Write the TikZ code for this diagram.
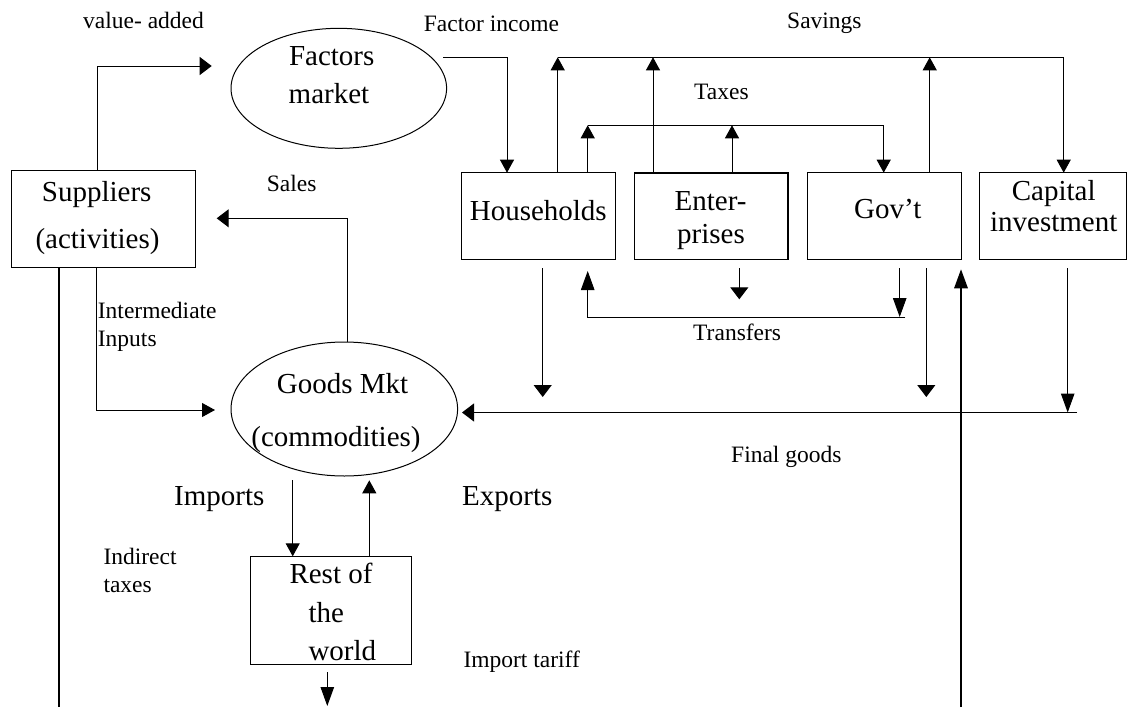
\documentclass[tikz,border=0pt]{standalone}
\usepackage{fontspec}
\setmainfont{Liberation Serif}
\usetikzlibrary{shapes.geometric,arrows.meta}
\tikzset{
  big/.style={font=\fontsize{29}{34}\selectfont, inner sep=0pt, anchor=base},
  bigl/.style={font=\fontsize{29}{34}\selectfont, inner sep=0pt, anchor=base west},
  sm/.style={font=\fontsize{23.5}{28}\selectfont, inner sep=0pt, anchor=base west},
  box/.style={draw, line width=1pt, inner sep=0pt, outer sep=0pt},
  ell/.style={draw, ellipse, line width=1pt, inner sep=0pt, outer sep=0pt},
  ln/.style={line width=1pt},
  arr/.style={ln, -{Triangle[length=13pt,width=14pt]}},
  arrl/.style={ln, -{Triangle[length=19pt,width=13.5pt]}},
  arrw/.style={ln, -{Triangle[length=12pt,width=18pt]}},
}
\begin{document}
\begin{tikzpicture}[x=1pt,y=-1pt]
\useasboundingbox (0,0) rectangle (1127,707);
% shapes
\node[ell, minimum width=215.6pt, minimum height=120pt] (fm) at (338.8,88.3) {};
\node[ell, minimum width=226.6pt, minimum height=134pt] (gm) at (344.3,409) {};
\node[box, minimum width=183.3pt, minimum height=97.7pt] (sup) at (103.35,218.85) {};
\node[box, minimum width=153.3pt, minimum height=86.6pt] (hh) at (538.35,216) {};
\node[box, line width=1.6pt, minimum width=153.7pt, minimum height=86.6pt] (ent) at (711.15,216) {};
\node[box, minimum width=154pt, minimum height=86.6pt] (gov) at (884,216) {};
\node[box, minimum width=146.3pt, minimum height=86.6pt] (cap) at (1052.85,216) {};
\node[box, minimum width=161.7pt, minimum height=108pt] (row) at (330.85,610.3) {};
% texts
\node[sm] (tva) at (83,28) {value- added};
\node[big] (tfa1) at (331.7,65) {Factors};
\node[big] (tfa2) at (329,103) {market};
\node[sm] (tfi) at (423.7,31.7) {Factor income};
\node[sm] (tsav) at (787,28.3) {Savings};
\node[sm] (ttax) at (694,99.3) {Taxes};
\node[big] (tsup1) at (96.7,201.7) {Suppliers};
\node[big] (tsup2) at (97.5,248) {(activities)};
\node[sm] (tsal) at (266.7,191.7) {Sales};
\node[big] (thh) at (538.3,220) {Households};
\node[big] (tent1) at (710.6,210) {Enter-};
\node[big] (tent2) at (711,243) {prises};
\node[big] (tgov) at (887.8,218.3) {Gov’t};
\node[big] (tcap1) at (1053.7,200) {Capital};
\node[big] (tcap2) at (1053.7,231.7) {investment};
\node[sm] (tint1) at (97.7,318.3) {Intermediate};
\node[sm] (tint2) at (97.7,346.7) {Inputs};
\node[sm] (ttr) at (693,340) {Transfers};
\node[big] (tgm1) at (342.5,393.3) {Goods Mkt};
\node[big] (tgm2) at (336,446.7) {(commodities)};
\node[sm] (tfg) at (731,462.7) {Final goods};
\node[bigl] (timp) at (174,505.3) {Imports};
\node[bigl] (texp) at (462,505.3) {Exports};
\node[sm] (tind1) at (103.3,564.7) {Indirect};
\node[sm] (tind2) at (103.3,592) {taxes};
\node[bigl] (trow1) at (289.3,583.7) {Rest of};
\node[bigl] (trow2) at (308.3,622) {the};
\node[bigl] (trow3) at (308.3,660.3) {world};
\node[sm] (tit) at (463.3,667) {Import tariff};
% coordinates
\coordinate (vaTop) at (97.7,66);
\coordinate (vaEnd) at (211.7,66);
\coordinate (fiA) at (443,57.3);
\coordinate (fiB) at (507,57.3);
\coordinate (svA) at (557.7,57.3);
\coordinate (svB) at (653,57.3);
\coordinate (svC) at (929.7,57.3);
\coordinate (svD) at (1063.7,57.3);
\coordinate (txA) at (587.7,125.3);
\coordinate (txB) at (732,125.3);
\coordinate (txC) at (883.7,125.3);
\coordinate (saA) at (347.7,218.3);
\coordinate (saB) at (216.7,218.3);
\coordinate (inA) at (96.7,410);
\coordinate (inB) at (215,410);
\coordinate (llA) at (59,267.7);
\coordinate (llB) at (59,707);
\coordinate (hdA) at (542.7,268.3);
\coordinate (hdB) at (542.7,397);
\coordinate (trA) at (899.7,268.3);
\coordinate (trB) at (899.7,317);
\coordinate (trC) at (905.3,317);
\coordinate (trD) at (587.7,317);
\coordinate (trE) at (587.7,271);
\coordinate (edA) at (739.3,268.3);
\coordinate (edB) at (739.3,299.3);
\coordinate (gdA) at (926.3,268.3);
\coordinate (gdB) at (926.3,397);
\coordinate (upA) at (961,707);
\coordinate (upB) at (961,269.3);
\coordinate (cdA) at (1067.7,268.3);
\coordinate (cdB) at (1067.7,412.5);
\coordinate (fgA) at (1077,412.5);
\coordinate (fgB) at (462,412.5);
\coordinate (imA) at (292.7,480.3);
\coordinate (exA) at (369.3,480.3);
\coordinate (btA) at (327.3,672);
\coordinate (btB) at (327.3,706);
% connectors
\draw[arrw] (sup.north -| vaTop) -- (vaTop) -- (vaEnd);
\draw[arr] (fiA) -- (fiB) -- (hh.north -| fiB);
\draw[ln] (svA) -- (svD);
\draw[arr] (svD) -- (cap.north -| svD);
\draw[arr] (hh.north -| svA) -- (svA);
\draw[arr] (ent.north -| svB) -- (svB);
\draw[arr] (gov.north -| svC) -- (svC);
\draw[ln] (txA) -- (txC);
\draw[arr] (txC) -- (gov.north -| txC);
\draw[arr] (hh.north -| txA) -- (txA);
\draw[arr] (ent.north -| txB) -- (txB);
\draw[arrw] (gm.north -| saA) -- (saA) -- (saB);
\draw[arr] (sup.south -| inA) -- (inA) -- (inB);
\draw[line width=1.3pt] (sup.south -| llA) -- (llB);
\draw[arrw] (hdA) -- (hdB);
\draw[arrl] (trA) -- (trB);
\draw[arrl] (trC) -- (trD) -- (trE);
\draw[arrw] (edA) -- (edB);
\draw[arrw] (gdA) -- (gdB);
\draw[arrl, line width=1.6pt] (upA) -- (upB);
\draw[arrl] (cdA) -- (cdB);
\draw[arrw] (fgA) -- (fgB);
\draw[arr] (imA) -- (row.north -| imA);
\draw[arr] (row.north -| exA) -- (exA);
\draw[arrl] (btA) -- (btB);
\end{tikzpicture}
\end{document}
